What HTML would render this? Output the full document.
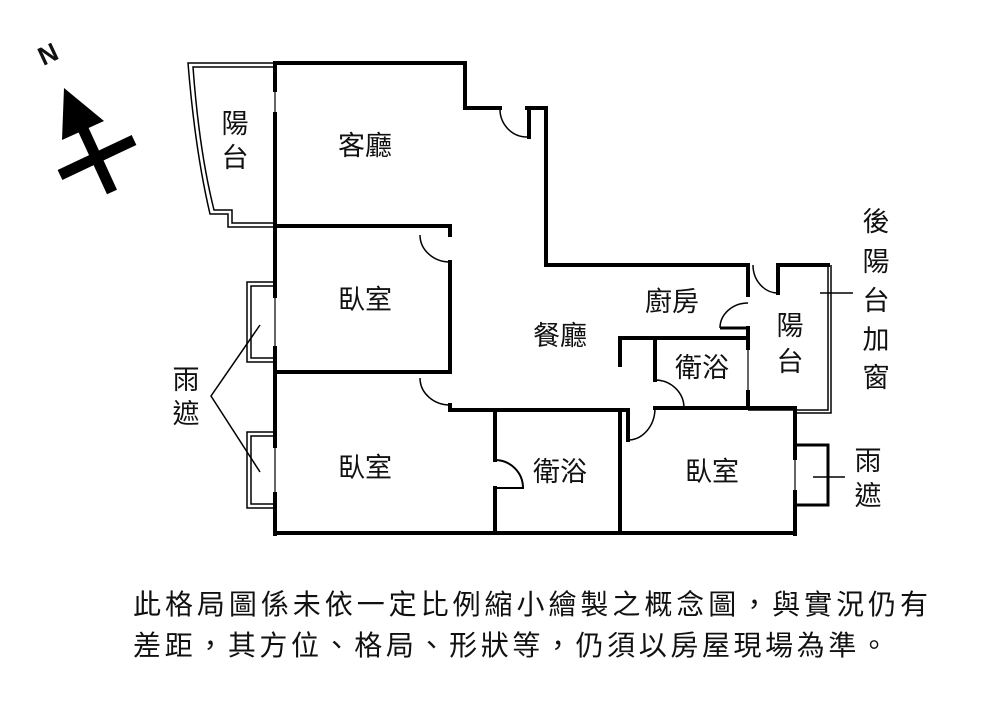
<!DOCTYPE html>
<html><head><meta charset="utf-8"><style>
body{margin:0;background:#fff;width:1000px;height:702px;overflow:hidden}
svg{display:block}
text{font-family:"Liberation Sans","Noto Sans CJK TC",sans-serif;fill:#111}
.r{font-size:27px;text-anchor:middle;dominant-baseline:central}
</style></head><body>
<svg width="1000" height="702" viewBox="0 0 1000 702">
<g fill="none" stroke="#000" stroke-width="4" stroke-linecap="square">
<polyline points="275,63 465,63 465,108 500,108"/>
<polyline points="527,108 546,108 546,265 748,265 748,295"/>
<line x1="529" y1="108" x2="529" y2="137"/>
<polyline points="748,328 748,408"/>
<line x1="275" y1="63" x2="275" y2="534"/>
<line x1="275" y1="533" x2="795" y2="533"/>
<line x1="795" y1="408" x2="795" y2="534"/>
<line x1="655" y1="408" x2="795" y2="408"/>
<line x1="450" y1="410" x2="628" y2="410"/>
<line x1="620" y1="410" x2="620" y2="533"/>
<line x1="628" y1="410" x2="628" y2="440"/>
<polyline points="495,410 495,460"/>
<polyline points="495,488 495,533"/>
<line x1="275" y1="226" x2="450" y2="226"/>
<line x1="450" y1="226" x2="450" y2="235"/>
<line x1="450" y1="262" x2="450" y2="372"/>
<line x1="275" y1="372" x2="450" y2="372"/>
<line x1="450" y1="405" x2="450" y2="410"/>
<polyline points="620,365 620,338 748,338"/>
<line x1="655" y1="338" x2="655" y2="380"/>
<polyline points="778,293 778,265 828,265"/>
</g>
<g fill="none" stroke="#000" stroke-width="1.5">
<path d="M500,108 A27,28 0 0 0 527,137"/>
<path d="M420,235 A30,27 0 0 0 450,262"/>
<path d="M420,378 A30,27 0 0 0 450,405"/>
<path d="M655,380 A29,28 0 0 1 684,408"/>
<path d="M628,440 A27,32 0 0 0 655,408"/>
<path d="M495,460 A28,28 0 0 1 523,488 L495,488" stroke-width="2"/>
<path d="M753,265 A25,28 0 0 0 778,293"/>
<path d="M748,303 A28,25 0 0 0 720,328"/>
<line x1="720" y1="328" x2="748" y2="328" stroke-width="3"/>
<path d="M275,63 L188,63 Q195,150 210,214 L228,214 L228,227 L275,227"/>
<path d="M275,67 L193,67 Q199,150 214,210 L232,210 L232,223 L275,223"/>
<path d="M828,265 L828,410 L748,410"/>
<path d="M831,265 L831,413 L795,413"/>
<rect x="247" y="282" width="28" height="80"/>
<rect x="251" y="286" width="24" height="72"/>
<rect x="247" y="432" width="28" height="76"/>
<rect x="251" y="436" width="24" height="68"/>
<polyline points="795,445 828,445 828,505 795,505" stroke-width="3"/>
<line x1="813" y1="477" x2="845" y2="477"/>
<line x1="820" y1="293" x2="853" y2="293"/>
<polyline points="260,325 211,396 260,472"/>
</g>
<g fill="#fff">
<rect x="273" y="92" width="4" height="20"/>
<rect x="273" y="298" width="4" height="48"/>
<rect x="273" y="448" width="4" height="44"/>
<rect x="793" y="460" width="4" height="30"/>
<rect x="746" y="350" width="4" height="40"/>
</g>
<g stroke="#000" stroke-width="1.2">
<line x1="275" y1="92" x2="275" y2="112"/>
<line x1="275" y1="298" x2="275" y2="346"/>
<line x1="275" y1="448" x2="275" y2="492"/>
<line x1="795" y1="460" x2="795" y2="490"/>
<line x1="748" y1="350" x2="748" y2="390"/>
</g>
<g fill="#000" stroke="#000">
<line x1="112" y1="192" x2="78" y2="118" stroke-width="11"/>
<polygon points="64,88 104,121 62,140" stroke="none"/>
<line x1="60" y1="175" x2="134" y2="140" stroke-width="11"/>
</g>
<text x="48" y="54" font-size="26" font-weight="bold" text-anchor="middle" dominant-baseline="central" transform="rotate(-25 48 54)">N</text>
<text class="r" x="235" y="124">陽</text><text class="r" x="235" y="158">台</text>
<text class="r" x="365" y="146">客廳</text>
<text class="r" x="365" y="300">臥室</text>
<text class="r" x="560" y="336">餐廳</text>
<text class="r" x="672" y="302">廚房</text>
<text class="r" x="702" y="368">衛浴</text>
<text class="r" x="790" y="326">陽</text><text class="r" x="790" y="362">台</text>
<text class="r" x="560" y="472">衛浴</text>
<text class="r" x="365" y="468">臥室</text>
<text class="r" x="712" y="472">臥室</text>
<text class="r" x="876" y="222">後</text><text class="r" x="876" y="262">陽</text><text class="r" x="876" y="301">台</text><text class="r" x="876" y="340">加</text><text class="r" x="876" y="378">窗</text>
<text class="r" x="186" y="380">雨</text><text class="r" x="186" y="414">遮</text>
<text class="r" x="868" y="461">雨</text><text class="r" x="868" y="496">遮</text>
<text x="133" y="614" font-size="28" textLength="795" lengthAdjust="spacing">此格局圖係未依一定比例縮小繪製之概念圖，與實況仍有</text>
<text x="133" y="655" font-size="28" textLength="755" lengthAdjust="spacing">差距，其方位、格局、形狀等，仍須以房屋現場為準。</text>
</svg>
</body></html>
